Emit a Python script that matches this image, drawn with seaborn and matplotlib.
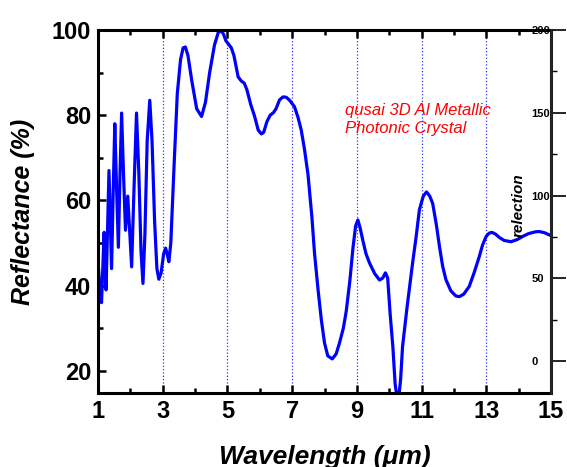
import numpy as np
import pandas as pd
import matplotlib
matplotlib.use("Agg")
import matplotlib.pyplot as plt
import seaborn as sns
from matplotlib.ticker import MultipleLocator, FixedLocator

# wavelength (um) and reflectance (%)
wavelength = [
    1.00, 1.05, 1.11, 1.15, 1.19, 1.22, 1.25, 1.30, 1.34, 1.38, 1.42, 1.47, 1.52, 1.57,
    1.63, 1.68, 1.73, 1.79, 1.85, 1.92, 1.97, 2.04, 2.11, 2.19, 2.26, 2.33, 2.39, 2.45,
    2.52, 2.60, 2.67, 2.75, 2.82, 2.88, 2.95, 3.03, 3.09, 3.15, 3.19, 3.25, 3.35, 3.45,
    3.55, 3.63, 3.70, 3.78, 3.90, 4.05, 4.20, 4.32, 4.45, 4.60, 4.72, 4.81, 4.88, 4.95,
    5.05, 5.12, 5.20, 5.33, 5.43, 5.52, 5.60, 5.72, 5.84, 5.95, 6.05, 6.12, 6.22, 6.32,
    6.42, 6.50, 6.61, 6.72, 6.82, 6.92, 7.07, 7.18, 7.28, 7.38, 7.49, 7.61, 7.69, 7.80,
    7.90, 8.00, 8.10, 8.24, 8.36, 8.46, 8.58, 8.67, 8.78, 8.88, 8.96, 9.03, 9.10, 9.18,
    9.28, 9.39, 9.55, 9.70, 9.80, 9.88, 9.95, 10.03, 10.11, 10.18, 10.27, 10.35, 10.41,
    10.55, 10.72, 10.83, 10.93, 11.05, 11.15, 11.25, 11.34, 11.45, 11.55, 11.65, 11.75,
    11.90, 12.05, 12.16, 12.30, 12.47, 12.62, 12.78, 12.88, 12.99, 13.08, 13.17, 13.28,
    13.40, 13.55, 13.76, 13.95, 14.11, 14.30, 14.50, 14.63, 14.80, 14.94, 15.00,
]
reflectance = [
    46, 40, 36, 44, 52.5, 45, 39, 55, 67, 55, 44, 62, 78, 64,
    49, 66, 80.5, 66, 53, 61, 54, 44.4, 62, 80.5, 67, 48, 40.5, 52,
    74, 83.5, 74, 55, 44, 41.5, 43, 47.5, 48.8, 47, 45.6, 50, 68, 85,
    93, 95.8, 96, 94, 88, 81.5, 79.7, 83, 90, 96.5, 99.5, 99.8, 99, 97.5,
    96.5, 95.8, 94, 89, 88, 87.5, 86, 82.5, 79.7, 76.5, 75.6, 76, 78.5, 80,
    80.6, 81.5, 83.6, 84.3, 84.2, 83.5, 82, 79.5, 76.5, 72, 66, 56, 47.6, 39,
    32, 26.5, 23.5, 22.8, 24, 26.5, 30, 34, 41, 49, 54, 55.4, 53.5, 50.7,
    47.5, 45.3, 42.8, 41.3, 41.8, 43, 41.8, 33, 25.7, 17, 12, 18, 25.7,
    35, 45.3, 51.5, 57.8, 61, 62, 61, 59.3, 54.5, 49.2, 44.5, 41.4,
    38.8, 37.6, 37.4, 38, 39.8, 43, 46.8, 49.5, 51.5, 52.3, 52.5, 52.1,
    51.3, 50.6, 50.3, 50.8, 51.5, 52.2, 52.6, 52.7, 52.4, 51.9, 51.7,
]
x_major = [1, 3, 5, 7, 9, 11, 13, 15]
x_minor = [2, 4, 6, 8, 10, 12, 14]
df = pd.DataFrame({"wl": wavelength, "R": reflectance})

sns.set_style("ticks")
plt.rcParams["font.family"] = ["Liberation Sans", "DejaVu Sans"]
plt.rcParams["font.weight"] = "bold"
plt.rcParams["text.color"] = "black"
plt.rcParams["axes.labelcolor"] = "black"
plt.rcParams["xtick.color"] = "black"
plt.rcParams["ytick.color"] = "black"

fig = plt.figure(figsize=(5.67, 4.67), dpi=100)
ax = fig.add_axes([0.1728, 0.1585, 0.7992, 0.7773])

sns.lineplot(data=df, x="wl", y="R", ax=ax, color="#0000ff", lw=2.3, sort=False)

ax.set_xlim(1, 15)
ax.set_ylim(14.8, 100)
ax.xaxis.set_major_locator(FixedLocator(x_major))
ax.xaxis.set_minor_locator(FixedLocator(x_minor))
ax.yaxis.set_major_locator(MultipleLocator(20))
ax.yaxis.set_minor_locator(MultipleLocator(10))
ax.tick_params(axis="x", which="both", direction="in", top=True, bottom=True, width=1.8)
ax.tick_params(axis="y", which="both", direction="in", left=True, right=False, width=1.8)
ax.tick_params(which="major", length=6, labelsize=17, pad=5)
ax.tick_params(which="minor", length=3.5)
for lab in ax.get_xticklabels() + ax.get_yticklabels():
    lab.set_fontweight("bold")
ax.xaxis.grid(True, which="major", linestyle=":", color="#3030ff", lw=0.9)
for s in ax.spines.values():
    s.set_linewidth(2.2)
    s.set_color("black")

ax.set_xlabel("Wavelength (μm)", fontsize=19, fontweight="bold", style="italic", labelpad=16)
ax.set_ylabel("Reflectance (%)", fontsize=18, fontweight="bold", style="italic", labelpad=12)

ax.text(8.62, 79.0, "qusai 3D Al Metallic\nPhotonic Crystal", color="red", fontsize=12,
        style="italic", fontweight="normal", va="center", ha="left", linespacing=1.3)

# secondary axis on the right
ax2 = ax.twinx()
ax2.set_ylim(-19.3, 200)
ax2.yaxis.set_major_locator(MultipleLocator(50))
ax2.yaxis.set_minor_locator(MultipleLocator(25))
ax2.tick_params(axis="y", which="major", direction="out", length=11, width=1.2,
                labelsize=8, pad=-25)
ax2.tick_params(axis="y", which="minor", direction="out", length=4, width=1.0)
for lab in ax2.get_yticklabels():
    lab.set_fontweight("bold")
for s in ax2.spines.values():
    s.set_visible(False)
ax2.spines["right"].set_visible(True)
ax2.spines["right"].set_linewidth(2.0)
ax2.set_ylabel("relection", fontsize=11, fontweight="bold", style="italic", rotation=90)
ax2.yaxis.set_label_coords(0.912, 0.518)

fig.savefig("out.png", dpi=100)
